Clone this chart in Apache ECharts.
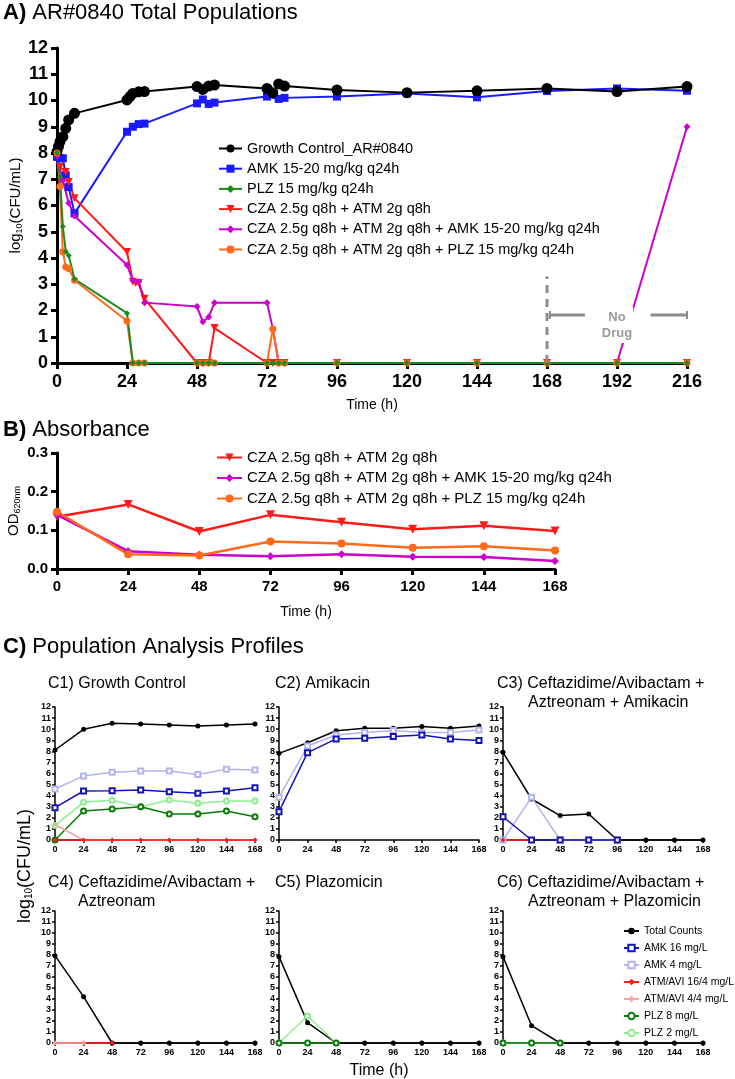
<!DOCTYPE html>
<html>
<head>
<meta charset="utf-8">
<script src="https://cdn.jsdelivr.net/npm/echarts@6/dist/echarts.min.js"></script>
<style>
html, body { margin: 0; padding: 0; background: #fff; }
#main { width: 735px; height: 1079px; }
</style>
</head>
<body>
<div id="main"></div>
<script>
// ---- Panel A: total populations, log10(CFU/mL) ----
var gcHours = [0, 0.5, 1, 2, 3, 4, 6, 24, 25, 26, 28, 30, 48, 50, 52, 54, 72, 74, 76, 78, 96, 120, 144, 168, 192, 216];
var gcLog = [8.05, 8.24, 8.43, 8.62, 8.94, 9.26, 9.51, 10.02, 10.15, 10.27, 10.33, 10.34, 10.53, 10.42, 10.55, 10.59, 10.46, 10.30, 10.63, 10.55, 10.40, 10.30, 10.37, 10.46, 10.34, 10.53];

var amkHours = [0, 1, 2, 3, 4, 6, 24, 26, 28, 30, 48, 50, 52, 54, 72, 76, 78, 96, 120, 144, 168, 192, 216];
var amkLog = [7.85, 7.8, 7.8, 7.15, 6.7, 5.7, 8.81, 9.0, 9.1, 9.12, 9.89, 10.04, 9.87, 9.92, 10.15, 10.06, 10.1, 10.15, 10.27, 10.12, 10.36, 10.46, 10.37];

var plzHours = [0, 1, 2, 3, 4, 6, 24, 26, 28, 30, 48, 50, 52, 54, 72, 74, 76, 78, 96, 120, 144, 168, 192, 216];
var plzLog = [8.0, 7.1, 5.2, 4.25, 4.1, 3.2, 1.9, 0, 0, 0, 0, 0, 0, 0, 0, 0, 0, 0, 0, 0, 0, 0, 0, 0];

var czaHours = [0, 1, 3, 4, 6, 24, 26, 27, 28, 30, 48, 50, 52, 54, 72, 74, 76, 78, 96, 120, 144, 168, 192, 216];
var czaLog = [7.9, 7.47, 7.28, 6.9, 6.28, 4.23, 3.1, 3.05, 3.05, 2.45, 0, 0, 0, 1.33, 0, 0, 0, 0, 0, 0, 0, 0, 0, 0];

var czaAmkHours = [0, 2, 4, 6, 24, 26, 28, 30, 48, 50, 52, 54, 72, 74, 76, 78, 96, 120, 144, 168, 192, 216];
var czaAmkLog = [7.9, 6.95, 6.1, 5.6, 3.73, 3.15, 3.1, 2.3, 2.15, 1.57, 1.75, 2.3, 2.3, 1.3, 0, 0, 0, 0, 0, 0, 0, 9.0];

var czaPlzHours = [0, 1, 2, 3, 4, 6, 24, 26, 28, 30, 48, 50, 52, 54, 72, 74, 76, 78, 96, 120, 144, 168, 192, 216];
var czaPlzLog = [8.0, 6.72, 4.24, 3.66, 3.6, 3.15, 1.6, 0, 0, 0, 0, 0, 0, 0, 0, 1.3, 0, 0, 0, 0, 0, 0, 0, 0];

var noDrugFrom = 168, noDrugTo = 216;

// ---- Panel B: absorbance OD620 ----
var odHours = [0, 24, 48, 72, 96, 120, 144, 168];
var odCza = [0.135, 0.167, 0.097, 0.140, 0.121, 0.103, 0.112, 0.098];
var odCzaAmk = [0.140, 0.046, 0.037, 0.033, 0.038, 0.032, 0.031, 0.021];
var odCzaPlz = [0.148, 0.038, 0.035, 0.071, 0.066, 0.055, 0.059, 0.048];

// ---- Panel C: population analysis profiles ----
var papHours = [0, 24, 48, 72, 96, 120, 144, 168];
var c1Total = [8.12, 9.99, 10.53, 10.47, 10.38, 10.29, 10.38, 10.47];
var c1Amk16 = [2.92, 4.42, 4.45, 4.51, 4.36, 4.21, 4.42, 4.72];
var c1Amk4 = [4.6, 5.78, 6.11, 6.23, 6.23, 5.9, 6.38, 6.32];
var c1Atm16 = [0, 0, 0, 0, 0, 0, 0, 0];
var c1Atm4 = [1.4, 0, 0, 0, 0, 0, 0, 0];
var c1Plz8 = [0, 2.62, 2.8, 3.0, 2.35, 2.35, 2.62, 2.1];
var c1Plz2 = [1.3, 3.4, 3.58, 3.0, 3.61, 3.31, 3.52, 3.52];

var c2Total = [7.82, 8.78, 9.86, 10.08, 10.08, 10.23, 10.08, 10.29];
var c2Amk4 = [3.85, 8.48, 9.48, 9.69, 9.87, 9.69, 9.69, 9.93];
var c2Amk16 = [2.56, 7.88, 9.12, 9.18, 9.33, 9.48, 9.12, 8.97];

var c3Total = [7.91, 3.7, 2.2, 2.35, 0, 0, 0, 0];
var c3Amk4 = [0, 3.85, 0, 0, 0];
var c3Amk16 = [2.1, 0, 0, 0, 0];
var c3Atm16 = [0, 0];

var c4Total = [7.94, 4.21, 0, 0, 0, 0, 0, 0];
var c4Atm16 = [0, 0, 0];
var c4Atm4 = [0, 0];

var c5Total = [7.85, 1.85, 0, 0, 0, 0, 0, 0];
var c5Plz2 = [0, 2.45, 0];
var c5Plz8 = [0, 0, 0];

var c6Total = [7.85, 1.57, 0, 0, 0, 0, 0, 0];
var c6Plz2 = [0, 0, 0];
var c6Plz8 = [0, 0, 0];

var FONT = '"Liberation Sans", Arial, Helvetica, sans-serif';

function pts(hours, vals) {
    return vals.map(function (v, i) { return [hours[i], v]; });
}

function line(name, grid, hours, vals, color, symbol, size, width, extra) {
    var s = {
        name: name,
        type: 'line',
        xAxisIndex: grid,
        yAxisIndex: grid,
        data: pts(hours, vals),
        symbol: symbol,
        symbolSize: size,
        clip: false,
        animation: false,
        lineStyle: { color: color, width: width },
        itemStyle: { color: color, borderColor: color, borderWidth: symbol.indexOf('empty') === 0 ? 1.3 : 0 },
        emphasis: { disabled: true }
    };
    if (extra) Object.assign(s, extra);
    return s;
}

// axis helpers
function xAx(grid, max, big, name, gap, nameSize) {
    return {
        type: 'value', gridIndex: grid, min: 0, max: max, interval: 24,
        axisLine: { onZero: false, lineStyle: { color: '#000', width: big ? 3 : 1.5 } },
        axisTick: { length: big ? 6 : 3, lineStyle: { color: '#000', width: big ? 3 : 1.5 } },
        axisLabel: { color: '#000', fontWeight: 'bold', fontSize: big ? (max > 168 ? 18 : 15) : 9, margin: big ? 10 : 5, fontFamily: FONT },
        splitLine: { show: false },
        name: name || '', nameLocation: 'middle', nameGap: gap || 0,
        nameTextStyle: { color: '#000', fontSize: nameSize || 14, fontFamily: FONT }
    };
}

function yAx(grid, max, interval, big, opts) {
    var a = {
        type: 'value', gridIndex: grid, min: 0, max: max, interval: interval,
        axisLine: { show: true, onZero: false, lineStyle: { color: '#000', width: big ? 3 : 1.5 } },
        axisTick: { show: true, length: big ? 6 : 3, lineStyle: { color: '#000', width: big ? 3 : 1.5 } },
        axisLabel: { color: '#000', fontWeight: 'bold', fontSize: big ? 18 : 9, margin: big ? 9 : 4, fontFamily: FONT },
        splitLine: { show: false }
    };
    if (opts) Object.assign(a, opts);
    return a;
}

var nA = ['Growth Control_AR#0840', 'AMK 15-20 mg/kg q24h', 'PLZ 15 mg/kg q24h',
    'CZA 2.5g q8h + ATM 2g q8h', 'CZA 2.5g q8h + ATM 2g q8h + AMK 15-20 mg/kg q24h',
    'CZA 2.5g q8h + ATM 2g q8h + PLZ 15 mg/kg q24h'];
var nC = ['Total Counts', 'AMK 16 mg/L', 'AMK 4 mg/L', 'ATM/AVI 16/4 mg/L', 'ATM/AVI 4/4 mg/L', 'PLZ 8 mg/L', 'PLZ 2 mg/L'];

var colA = { gc: '#000000', amk: '#1a1aff', plz: '#1e8a1e', cza: '#ff1a1a', czaAmk: '#cc00cc', czaPlz: '#ff6a1a' };
var colC = { total: '#000000', amk16: '#1414b4', amk4: '#b4b4f0', atm16: '#ff1a1a', atm4: '#f5a3a3', plz8: '#0a7a0a', plz2: '#90ee90' };

var down = { symbolRotate: 180 };

function cSeries(name, grid, vals) {
    var map = {
        'Total Counts': [colC.total, 'circle', 5],
        'AMK 16 mg/L': [colC.amk16, 'emptyRect', 5],
        'AMK 4 mg/L': [colC.amk4, 'emptyRect', 5],
        'ATM/AVI 16/4 mg/L': [colC.atm16, 'diamond', 5],
        'ATM/AVI 4/4 mg/L': [colC.atm4, 'diamond', 5],
        'PLZ 8 mg/L': [colC.plz8, 'emptyCircle', 5],
        'PLZ 2 mg/L': [colC.plz2, 'emptyCircle', 5]
    };
    var m = map[name];
    return line(name, grid, papHours, vals, m[0], m[1], m[2], 1.5);
}

var series = [
    // A
    line(nA[1], 0, amkHours, amkLog, colA.amk, 'rect', 8, 2),
    line(nA[0], 0, gcHours, gcLog, colA.gc, 'circle', 11, 2),
    line(nA[3], 0, czaHours, czaLog, colA.cza, 'triangle', 8, 2, down),
    line(nA[4], 0, czaAmkHours, czaAmkLog, colA.czaAmk, 'diamond', 7, 2),
    line(nA[5], 0, czaPlzHours, czaPlzLog, colA.czaPlz, 'circle', 7, 2),
    line(nA[2], 0, plzHours, plzLog, colA.plz, 'diamond', 6, 2),
    // B
    line(nA[3], 1, odHours, odCza, colA.cza, 'triangle', 9, 2.5, down),
    line(nA[4], 1, odHours, odCzaAmk, colA.czaAmk, 'diamond', 8, 2.5),
    line(nA[5], 1, odHours, odCzaPlz, colA.czaPlz, 'circle', 8, 2.5),
    // C1
    cSeries(nC[0], 2, c1Total),
    cSeries(nC[2], 2, c1Amk4),
    cSeries(nC[1], 2, c1Amk16),
    cSeries(nC[6], 2, c1Plz2),
    cSeries(nC[5], 2, c1Plz8),
    cSeries(nC[4], 2, c1Atm4),
    cSeries(nC[3], 2, c1Atm16),
    // C2
    cSeries(nC[0], 3, c2Total),
    cSeries(nC[2], 3, c2Amk4),
    cSeries(nC[1], 3, c2Amk16),
    // C3
    cSeries(nC[0], 4, c3Total),
    cSeries(nC[2], 4, c3Amk4),
    cSeries(nC[3], 4, c3Atm16),
    cSeries(nC[1], 4, c3Amk16),
    // C4
    cSeries(nC[0], 5, c4Total),
    cSeries(nC[3], 5, c4Atm16),
    cSeries(nC[4], 5, c4Atm4),
    // C5
    cSeries(nC[0], 6, c5Total),
    cSeries(nC[6], 6, c5Plz2),
    cSeries(nC[5], 6, c5Plz8),
    // C6
    cSeries(nC[0], 7, c6Total),
    cSeries(nC[6], 7, c6Plz2),
    cSeries(nC[5], 7, c6Plz8)
];

var grids = [
    { left: 57, top: 48, width: 630, height: 315 },   // A
    { left: 57, top: 453, width: 498, height: 116 },  // B
    { left: 55, top: 707, width: 200, height: 133 },  // C1
    { left: 279, top: 707, width: 200, height: 133 }, // C2
    { left: 503, top: 707, width: 200, height: 133 }, // C3
    { left: 55, top: 911, width: 200, height: 132 },  // C4
    { left: 279, top: 911, width: 200, height: 132 }, // C5
    { left: 503, top: 911, width: 200, height: 132 }  // C6
].map(function (g) { g.outerBoundsMode = 'none'; g.containLabel = false; return g; });

var sub = { fontSize: 9, padding: [7, 0, 0, 0], fontFamily: FONT, color: '#000' };

var xAxes = [
    xAx(0, 216, true, 'Time (h)', 35, 14),
    xAx(1, 168, true, 'Time (h)', 36, 14),
    xAx(2, 168, false), xAx(3, 168, false), xAx(4, 168, false),
    xAx(5, 168, false), xAx(6, 168, false, 'Time (h)', 20, 16), xAx(7, 168, false)
];
var yAxes = [
    yAx(0, 12, 1, true, {
        name: 'log{s|10}(CFU/mL)', nameLocation: 'middle', nameGap: 33, nameRotate: 90, nameMoveOverlap: false,
        nameTextStyle: { color: '#000', fontSize: 15, fontFamily: FONT, rich: { s: sub } }
    }),
    yAx(1, 0.3, 0.1, true, {
        axisLabel: { color: '#000', fontWeight: 'bold', fontSize: 15, margin: 9, fontFamily: FONT,
            formatter: function (v) { return v.toFixed(1); } },
        name: 'OD{s|620nm}', nameLocation: 'middle', nameGap: 35, nameRotate: 90, nameMoveOverlap: false,
        nameTextStyle: { color: '#000', fontSize: 15, fontFamily: FONT, rich: { s: sub } }
    }),
    yAx(2, 12, 1, false), yAx(3, 12, 1, false), yAx(4, 12, 1, false),
    yAx(5, 12, 1, false), yAx(6, 12, 1, false), yAx(7, 12, 1, false)
];

function ttl(text, left, top, size) {
    return {
        text: text, left: left, top: top, padding: 0,
        textStyle: {
            color: '#000', fontWeight: 'normal', fontSize: size, fontFamily: FONT,
            rich: { b: { fontWeight: 'bold', fontSize: size, fontFamily: FONT, color: '#000' } }
        }
    };
}

var titles = [
    ttl('{b|A)} AR#0840 Total Populations', 3, 2, 22),
    ttl('{b|B)} Absorbance', 3, 419, 22),
    ttl('{b|C)} Population Analysis Profiles', 3, 636, 22),
    ttl('C1) Growth Control', 48, 676, 16),
    ttl('C2) Amikacin', 275, 676, 16),
    ttl('C3) Ceftazidime/Avibactam +', 497, 676, 16),
    ttl('Aztreonam + Amikacin', 528, 695, 16),
    ttl('C4) Ceftazidime/Avibactam +', 48, 875, 16),
    ttl('Aztreonam', 78, 894, 16),
    ttl('C5) Plazomicin', 275, 875, 16),
    ttl('C6) Ceftazidime/Avibactam +', 497, 875, 16),
    ttl('Aztreonam + Plazomicin', 528, 894, 16)
];

var legends = [
    { data: nA, orient: 'vertical', left: 218, top: 141, padding: 0, itemWidth: 23, itemHeight: 10, itemGap: 5.2,
      selectedMode: false, textStyle: { color: '#000', fontSize: 14.5, fontFamily: FONT, lineHeight: 14 } },
    { data: nA.slice(3), orient: 'vertical', left: 216, top: 450, padding: 0, itemWidth: 25, itemHeight: 10, itemGap: 5.5,
      selectedMode: false, textStyle: { color: '#000', fontSize: 15, fontFamily: FONT, lineHeight: 14 } },
    { data: nC, orient: 'vertical', left: 623, top: 925, padding: 0, itemWidth: 15, itemHeight: 8, itemGap: 5,
      selectedMode: false, textStyle: { color: '#000', fontSize: 10.5, fontFamily: FONT, lineHeight: 12 } }
];

var myChart = echarts.init(document.getElementById('main'), null, { renderer: 'canvas' });

myChart.setOption({
    animation: false,
    backgroundColor: '#fff',
    title: titles,
    legend: legends,
    grid: grids,
    xAxis: xAxes,
    yAxis: yAxes,
    series: series
});

// annotations: "No Drug" window in panel A, shared y-axis title for panel C
var p = function (x, y) { return myChart.convertToPixel({ gridIndex: 0 }, [x, y]); };
var gray = '#8c8c8c';
var v0 = p(noDrugFrom, 0), v1 = p(noDrugFrom, 3.3);
var barY = p(0, 1.83)[1];
var l0 = p(noDrugFrom + 1, 0)[0], l1 = p(181, 0)[0];
var r0 = p(203.5, 0)[0], r1 = p(noDrugTo, 0)[0];
var mid = p((noDrugFrom + noDrugTo) / 2, 1.75);

myChart.setOption({
    graphic: [
        { type: 'line', z: 50, shape: { x1: v0[0], y1: v0[1], x2: v1[0], y2: v1[1] },
          style: { stroke: gray, lineWidth: 3, lineDash: [8, 6] } },
        { type: 'line', z: 50, shape: { x1: l0, y1: barY, x2: l1, y2: barY }, style: { stroke: gray, lineWidth: 3 } },
        { type: 'line', z: 50, shape: { x1: l0, y1: barY - 4, x2: l0, y2: barY + 4 }, style: { stroke: gray, lineWidth: 2 } },
        { type: 'line', z: 50, shape: { x1: r0, y1: barY, x2: r1, y2: barY }, style: { stroke: gray, lineWidth: 3 } },
        { type: 'line', z: 50, shape: { x1: r1, y1: barY - 4, x2: r1, y2: barY + 4 }, style: { stroke: gray, lineWidth: 2 } },
        { type: 'text', z: 100, x: mid[0], y: mid[1] + 8,
          style: { text: 'No\nDrug', fill: '#9a9a9a', font: 'bold 13px ' + FONT, align: 'center', verticalAlign: 'middle',
                   lineHeight: 16, backgroundColor: '#fff', padding: [2, 1, 2, 1] } },
        { type: 'text', x: 25, y: 866, rotation: Math.PI / 2,
          style: { text: 'log{s|10}(CFU/mL)', fill: '#000', fontSize: 18, fontFamily: FONT, align: 'center', verticalAlign: 'middle',
                   rich: { s: { fontSize: 10, padding: [8, 0, 0, 0], fontFamily: FONT, fill: '#000' } } } }
    ]
});
</script>
</body>
</html>
